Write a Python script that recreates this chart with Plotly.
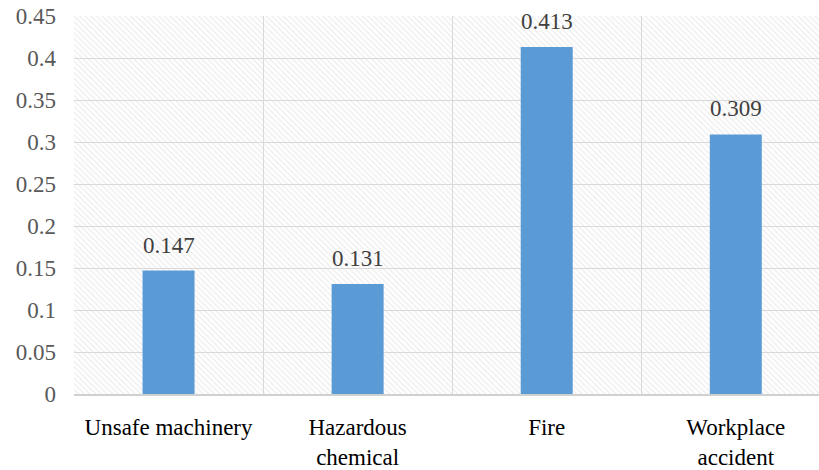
import plotly.graph_objects as go

categories = ["Unsafe machinery", "Hazardous<br>chemical", "Fire", "Workplace<br>accident"]
values = [0.147, 0.131, 0.413, 0.309]
value_labels = ["0.147", "0.131", "0.413", "0.309"]
y_ticks = [0, 0.05, 0.1, 0.15, 0.2, 0.25, 0.3, 0.35, 0.4, 0.45]
y_tick_labels = ["0", "0.05", "0.1", "0.15", "0.2", "0.25", "0.3", "0.35", "0.4", "0.45"]
y_max = 0.45

font_family = "Liberation Serif"

fig = go.Figure()

# hatched background
fig.add_trace(go.Bar(
    x=categories, y=[y_max] * len(categories), width=1,
    marker=dict(color="rgba(0,0,0,0)", line=dict(width=0),
                pattern=dict(shape="\\", fgcolor="#d9d9d9", bgcolor="rgba(0,0,0,0)",
                             size=4, solidity=0.3)),
    hoverinfo="skip", showlegend=False,
))

fig.add_trace(go.Bar(
    x=categories, y=values, width=0.275,
    marker=dict(color="#5B9BD5", line=dict(width=0)),
    showlegend=False,
))

for c, v, t in zip(categories, values, value_labels):
    fig.add_annotation(x=c, y=v, text=t, showarrow=False, yanchor="bottom", yshift=11,
                       font=dict(family=font_family, size=23, color="#404040"))

fig.update_layout(
    width=819, height=470,
    margin=dict(l=74, r=0, t=16, b=68),
    paper_bgcolor="white", plot_bgcolor="white",
    barmode="overlay",
    font=dict(family=font_family, size=23, color="#595959"),
)
fig.update_xaxes(
    type="category", range=[-0.5, 3.44], tickson="boundaries",
    showgrid=True, gridcolor="#d9d9d9", gridwidth=1,
    showline=True, linecolor="#d0d0d0", linewidth=2,
    ticks="", ticklabelstandoff=11,
    tickfont=dict(family=font_family, size=23, color="#000000"),
)
fig.update_yaxes(
    range=[0, y_max], tickvals=y_ticks, ticktext=y_tick_labels,
    showgrid=True, gridcolor="#d9d9d9", gridwidth=1, zeroline=False,
    showline=False, ticks="", ticklabelstandoff=17, ticklabeloverflow="allow",
    tickfont=dict(family=font_family, size=23, color="#595959"),
)

fig.write_html("out.html", config={"displayModeBar": False},
               post_script="document.body.style.margin='0';document.body.style.overflow='hidden';")
